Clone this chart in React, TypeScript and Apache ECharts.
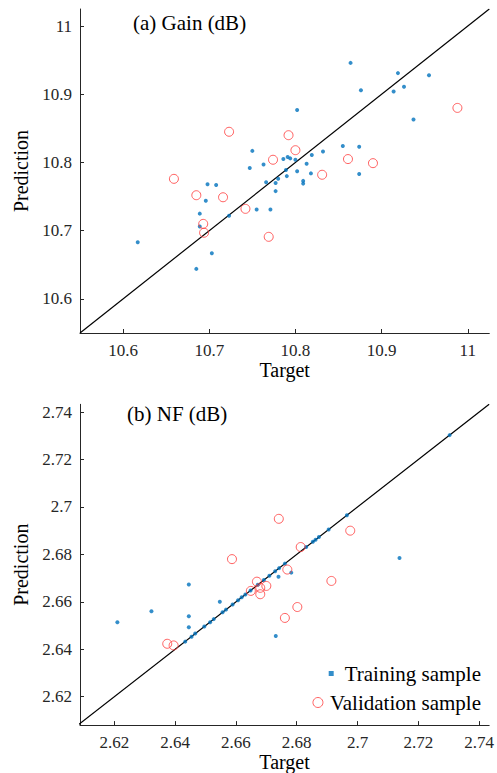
import React, { useEffect, useRef } from "react";
import * as echarts from "echarts";

// ---- Data ----
const gainTicks = [10.6, 10.7, 10.8, 10.9, 11];
const nfTicks = [2.62, 2.64, 2.66, 2.68, 2.7, 2.72, 2.74];

const gainTrainTarget = [10.864, 10.919, 10.955, 10.876, 10.926, 10.914, 10.802, 10.937, 10.855, 10.874, 10.832, 10.819, 10.813, 10.786, 10.791, 10.794, 10.8, 10.75, 10.763, 10.747, 10.789, 10.79, 10.78, 10.777, 10.766, 10.777, 10.698, 10.708, 10.696, 10.689, 10.723, 10.755, 10.771, 10.689, 10.617, 10.703, 10.685, 10.802, 10.818, 10.809, 10.809, 10.874];
const gainTrainPred = [10.946, 10.931, 10.928, 10.906, 10.911, 10.904, 10.877, 10.863, 10.824, 10.823, 10.816, 10.811, 10.798, 10.805, 10.808, 10.806, 10.804, 10.817, 10.797, 10.792, 10.789, 10.78, 10.776, 10.77, 10.771, 10.758, 10.768, 10.767, 10.744, 10.725, 10.722, 10.731, 10.731, 10.706, 10.683, 10.667, 10.644, 10.787, 10.784, 10.773, 10.769, 10.783];

const gainValTarget = [10.723, 10.774, 10.988, 10.792, 10.8, 10.861, 10.89, 10.659, 10.685, 10.716, 10.742, 10.693, 10.694, 10.769, 10.831];
const gainValPred = [10.845, 10.804, 10.88, 10.84, 10.818, 10.805, 10.799, 10.776, 10.752, 10.749, 10.732, 10.71, 10.697, 10.691, 10.782];

const nfTrainTarget = [2.6433, 2.6454, 2.6466, 2.6496, 2.6515, 2.6527, 2.6556, 2.6567, 2.6589, 2.6607, 2.6619, 2.6631, 2.6648, 2.6672, 2.6692, 2.671, 2.6729, 2.6742, 2.6761, 2.6831, 2.6853, 2.6862, 2.6873, 2.6905, 2.6965, 2.7303, 2.6445, 2.6547, 2.6322, 2.621, 2.6445, 2.6445, 2.6731, 2.674, 2.6782, 2.7138];
const nfTrainPred = [2.6432, 2.6453, 2.6466, 2.6496, 2.6514, 2.6527, 2.6556, 2.6567, 2.6589, 2.6607, 2.6619, 2.6631, 2.6648, 2.6672, 2.6692, 2.671, 2.6729, 2.6742, 2.6761, 2.6831, 2.6853, 2.6862, 2.6873, 2.6905, 2.6965, 2.7303, 2.6673, 2.66, 2.656, 2.6514, 2.6539, 2.6493, 2.6456, 2.6706, 2.6723, 2.6785];

const nfValTarget = [2.6741, 2.6587, 2.6769, 2.6976, 2.6813, 2.6914, 2.6802, 2.6761, 2.6669, 2.6649, 2.668, 2.668, 2.67, 2.6374, 2.6395];
const nfValPred = [2.695, 2.678, 2.6736, 2.69, 2.6831, 2.6688, 2.6578, 2.6532, 2.6685, 2.6646, 2.6659, 2.6632, 2.6667, 2.6423, 2.6416];

const gainRange = [10.55, 11.025];
const nfXRange = [2.6087, 2.7433];
const nfYRange = [2.608, 2.7433];

const FONT = "Liberation Serif";
const AXIS_COLOR = "#262626";
const BLUE = "#0072BD";
const RED = "#FF3B3B";

const zip = (a: number[], b: number[]) => a.map((v, i) => [v, b[i]]);
const fmt = (v: number) => String(parseFloat(v.toFixed(3)));

function makeAxis(gridIndex: number, range: number[], ticks: number[], name: string, isY: boolean) {
  return {
    type: "value",
    gridIndex,
    min: range[0],
    max: range[1],
    name,
    nameLocation: "middle",
    nameGap: isY ? 45 : 24,
    nameTextStyle: { fontFamily: FONT, fontSize: 20, color: "#000" },
    axisLine: { show: true, onZero: false, lineStyle: { color: AXIS_COLOR, width: 1 } },
    axisTick: { show: true, inside: true, length: 4, customValues: ticks, lineStyle: { color: AXIS_COLOR } },
    axisLabel: {
      customValues: ticks,
      formatter: (v: number) => fmt(v),
      fontFamily: FONT,
      fontSize: 17,
      color: AXIS_COLOR,
      margin: isY ? 8 : 9,
    },
    splitLine: { show: false },
  };
}

export default function App() {
  const ref = useRef<HTMLDivElement>(null);
  useEffect(() => {
    if (!ref.current) return;
    const chart = echarts.init(ref.current, undefined, { renderer: "svg" });
    chart.setOption({
      animation: false,
      backgroundColor: "#fff",
      textStyle: { fontFamily: FONT },
      title: [
        { text: "(a) Gain (dB)", left: 128, top: 7, textStyle: { fontFamily: FONT, fontSize: 21, fontWeight: "normal", color: "#000" } },
        { text: "(b) NF (dB)", left: 122, top: 398, textStyle: { fontFamily: FONT, fontSize: 21, fontWeight: "normal", color: "#000" } },
      ],
      grid: [
        { left: 80, right: 7.7, top: 9, height: 324 },
        { left: 80, right: 7.7, top: 404.3, height: 324 },
      ],
      xAxis: [makeAxis(0, gainRange, gainTicks, "Target", false), makeAxis(1, nfXRange, nfTicks, "Target", false)],
      yAxis: [makeAxis(0, gainRange, gainTicks, "Prediction", true), makeAxis(1, nfYRange, nfTicks, "Prediction", true)],
      legend: [
        {
          data: [{ name: "Training sample", icon: "rect", itemStyle: { color: BLUE } }],
          right: 11,
          top: 658,
          itemWidth: 5,
          itemHeight: 5,
          textStyle: { fontFamily: FONT, fontSize: 21, color: "#000", padding: [0, 0, 0, 6] },
          selectedMode: false,
        },
        {
          data: [{ name: "Validation sample", icon: "circle", itemStyle: { color: "rgba(0,0,0,0)", borderColor: RED, borderWidth: 1 } }],
          right: 11,
          top: 687,
          itemWidth: 10,
          itemHeight: 10,
          textStyle: { fontFamily: FONT, fontSize: 21, color: "#000", padding: [0, 0, 0, 2] },
          selectedMode: false,
        },
      ],
      series: [
        {
          type: "line",
          xAxisIndex: 0,
          yAxisIndex: 0,
          data: [[gainRange[0], gainRange[0]], [gainRange[1], gainRange[1]]],
          symbol: "none",
          silent: true,
          lineStyle: { color: "#000", width: 1.2 },
          z: 1,
        },
        {
          name: "Training sample",
          type: "scatter",
          xAxisIndex: 0,
          yAxisIndex: 0,
          data: zip(gainTrainTarget, gainTrainPred),
          symbol: "circle",
          symbolSize: 4,
          itemStyle: { color: BLUE },
          z: 3,
        },
        {
          name: "Validation sample",
          type: "scatter",
          xAxisIndex: 0,
          yAxisIndex: 0,
          data: zip(gainValTarget, gainValPred),
          symbol: "circle",
          symbolSize: 9,
          itemStyle: { color: "rgba(0,0,0,0)", borderColor: RED, borderWidth: 1 },
          z: 4,
        },
        {
          type: "line",
          xAxisIndex: 1,
          yAxisIndex: 1,
          data: [[nfYRange[0], nfYRange[0]], [nfYRange[1], nfYRange[1]]],
          symbol: "none",
          silent: true,
          clip: true,
          lineStyle: { color: "#000", width: 1.2 },
          z: 1,
        },
        {
          name: "Training sample",
          type: "scatter",
          xAxisIndex: 1,
          yAxisIndex: 1,
          data: zip(nfTrainTarget, nfTrainPred),
          symbol: "circle",
          symbolSize: 4,
          itemStyle: { color: BLUE },
          z: 3,
        },
        {
          name: "Validation sample",
          type: "scatter",
          xAxisIndex: 1,
          yAxisIndex: 1,
          data: zip(nfValTarget, nfValPred),
          symbol: "circle",
          symbolSize: 9,
          itemStyle: { color: "rgba(0,0,0,0)", borderColor: RED, borderWidth: 1 },
          z: 4,
        },
      ],
    });
    return () => chart.dispose();
  }, []);
  return <div ref={ref} style={{ position: "fixed", left: 0, top: 0, width: 497, height: 773 }} />;
}
